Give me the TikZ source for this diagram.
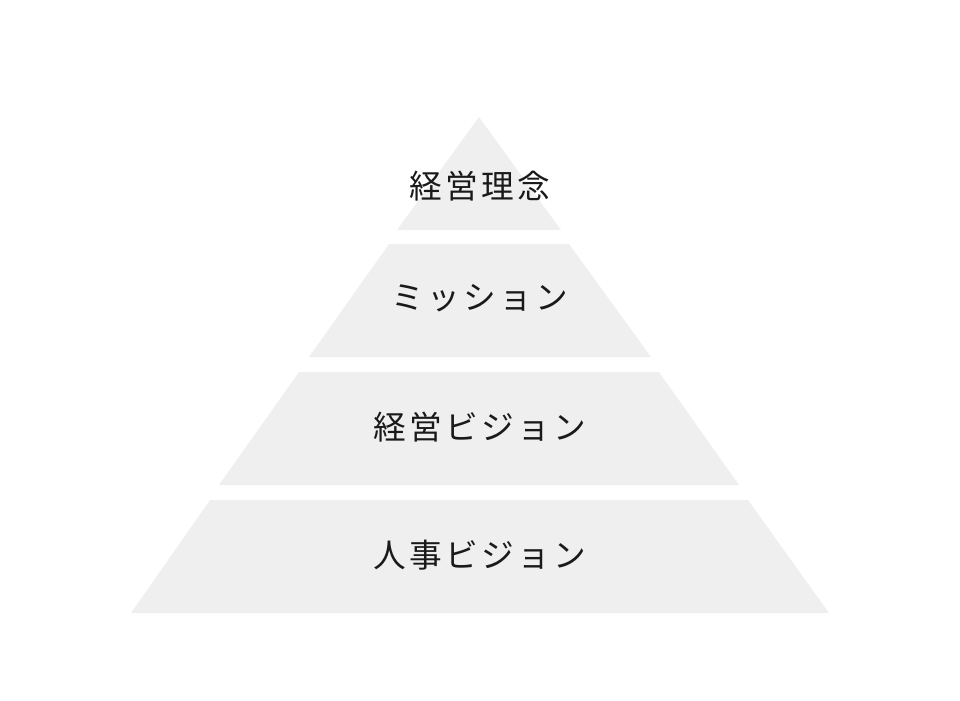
\documentclass[tikz,border=0pt]{standalone}
\usepackage{fontspec}
\newfontfamily\jpfont[LetterSpace=10]{Noto Sans CJK JP}
\definecolor{layergray}{HTML}{EFEFEF}
\definecolor{labelink}{HTML}{1A1A1A}

\tikzstyle{layer} = [fill=layergray,draw=none]
\tikzstyle{label} = [font=\jpfont\fontsize{24.5}{29}\selectfont,text=labelink,align=center,inner sep=0pt]

\begin{document}
\begin{tikzpicture}[x=0.75pt,y=-0.75pt]
	\useasboundingbox (0,0) rectangle (960,700);
	\fill [layer] (479,117) -- (561,230) -- (397,230) -- cycle;
	\fill [layer] (389,244) -- (569,244) -- (651,357) -- (309,357) -- cycle;
	\fill [layer] (299,372) -- (659,372) -- (739,485) -- (219,485) -- cycle;
	\fill [layer] (210,500) -- (748,500) -- (829,613) -- (131,613) -- cycle;
	\node (philosophy) [label] at (480,186) {経営理念};
	\node (mission) [label] at (480,298) {ミッション};
	\node (vision) [label] at (480,427) {経営ビジョン};
	\node (hrvision) [label] at (480,555) {人事ビジョン};
\end{tikzpicture}
\end{document}
